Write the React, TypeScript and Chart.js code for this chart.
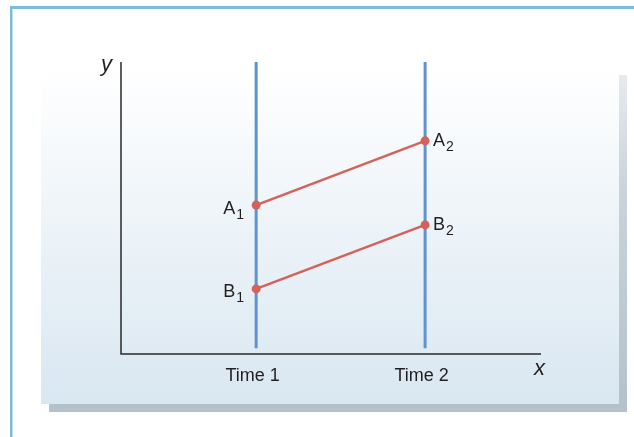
import React, { useEffect, useRef } from "react";
import { Chart, registerables } from "chart.js";

Chart.register(...registerables);

// ---- data ----
const times = [1, 2];
const timeLabels = ["Time 1", "Time 2"];
const seriesNames = ["A", "B"];
const seriesA = [5.1, 7.3];
const seriesB = [2.23, 4.42];
const timeLineRange = [0.2, 10];
const xRange = [0.2, 2.686];
const yRange = [0, 10];
const axisTitles = { x: "x", y: "y" };

const BLUE = "#5e93cf";
const RED = "#d3625b";
const TEXT = "#231f20";
const FONT = '"Liberation Sans", Arial, Helvetica, sans-serif';

const backdropPlugin = {
  id: "backdrop",
  beforeDraw(chart: any) {
    const ctx = chart.ctx as CanvasRenderingContext2D;
    ctx.save();
    ctx.fillStyle = "#ffffff";
    ctx.fillRect(0, 0, chart.width, chart.height);
    // outer frame (top + left)
    ctx.fillStyle = "#7dbcd8";
    ctx.fillRect(10, 6, chart.width - 10, 3);
    ctx.fillRect(10, 6, 2.5, chart.height - 6);
    // shadow
    const sg = ctx.createLinearGradient(0, 75, 0, 412);
    sg.addColorStop(0, "#e6eaed");
    sg.addColorStop(0.35, "#c9d3d9");
    sg.addColorStop(1, "#b3c2ca");
    ctx.fillStyle = sg;
    ctx.fillRect(49, 75, 578, 337);
    // panel
    const g = ctx.createLinearGradient(0, 67, 0, 404);
    g.addColorStop(0, "#ffffff");
    g.addColorStop(1, "#d9e7f1");
    ctx.fillStyle = g;
    ctx.fillRect(41, 67, 578, 337);
    ctx.restore();
  },
  beforeDatasetsDraw(chart: any) {
    const ctx = chart.ctx as CanvasRenderingContext2D;
    const { left, right, top, bottom } = chart.chartArea;
    ctx.save();
    ctx.strokeStyle = "#2a2a2a";
    ctx.lineWidth = 1.5;
    ctx.beginPath();
    ctx.moveTo(left, top);
    ctx.lineTo(left, bottom);
    ctx.lineTo(right, bottom);
    ctx.stroke();
    ctx.restore();
  },
  afterDatasetsDraw(chart: any) {
    const ctx = chart.ctx as CanvasRenderingContext2D;
    const xs = chart.scales.x;
    const ys = chart.scales.y;
    const { left, right, top, bottom } = chart.chartArea;
    ctx.save();
    ctx.fillStyle = TEXT;
    ctx.textBaseline = "alphabetic";
    // axis titles
    ctx.font = `italic 22px ${FONT}`;
    ctx.textAlign = "right";
    ctx.fillText(axisTitles.y, left - 9, top + 9);
    ctx.textAlign = "left";
    ctx.fillText(axisTitles.x, right - 7, bottom + 21);
    // time labels
    ctx.font = `18px ${FONT}`;
    ctx.textAlign = "center";
    times.forEach((t, i) => {
      ctx.fillText(timeLabels[i], xs.getPixelForValue(t) - 3.5, bottom + 27);
    });
    // point labels
    const all = [seriesA, seriesB];
    all.forEach((vals, si) => {
      vals.forEach((v, ti) => {
        const px = xs.getPixelForValue(times[ti]);
        const py = ys.getPixelForValue(v);
        const main = seriesNames[si];
        const sub = String(ti + 1);
        ctx.font = `18px ${FONT}`;
        const wMain = ctx.measureText(main).width;
        ctx.font = `14px ${FONT}`;
        const wSub = ctx.measureText(sub).width;
        let x0: number;
        let base: number;
        if (ti === 0) {
          x0 = px - 12 - wMain - wSub - 1;
          base = py + 8.5;
        } else {
          x0 = px + 8;
          base = py + 5.5;
        }
        ctx.textAlign = "left";
        ctx.font = `18px ${FONT}`;
        ctx.fillText(main, x0, base);
        ctx.font = `14px ${FONT}`;
        ctx.fillText(sub, x0 + wMain + 1, base + 5);
      });
    });
    ctx.restore();
  },
};

export default function App() {
  const ref = useRef<HTMLCanvasElement | null>(null);
  useEffect(() => {
    if (!ref.current) return;
    const timeLines = times.map((t) => ({
      data: timeLineRange.map((y) => ({ x: t, y })),
      borderColor: BLUE,
      borderWidth: 3,
      pointRadius: 0,
      showLine: true,
      order: 2,
    }));
    const series = [seriesA, seriesB].map((vals) => ({
      data: vals.map((y, i) => ({ x: times[i], y })),
      borderColor: RED,
      backgroundColor: RED,
      borderWidth: 2.5,
      pointRadius: 4.5,
      pointBorderWidth: 0,
      pointBackgroundColor: RED,
      showLine: true,
      order: 1,
    }));
    const chart = new Chart(ref.current, {
      type: "scatter",
      data: { datasets: [...timeLines, ...series] as any },
      options: {
        animation: false,
        responsive: false,
        devicePixelRatio: 1,
        layout: { padding: { left: 121, top: 62, right: 93, bottom: 83 } },
        plugins: { legend: { display: false }, tooltip: { enabled: false } },
        scales: {
          x: { type: "linear", min: xRange[0], max: xRange[1], display: false },
          y: { type: "linear", min: yRange[0], max: yRange[1], display: false },
        },
      },
      plugins: [backdropPlugin],
    });
    return () => chart.destroy();
  }, []);
  return (
    <div style={{ position: "fixed", left: 0, top: 0, width: 634, height: 437 }}>
      <canvas ref={ref} width={634} height={437} style={{ display: "block" }} />
    </div>
  );
}
